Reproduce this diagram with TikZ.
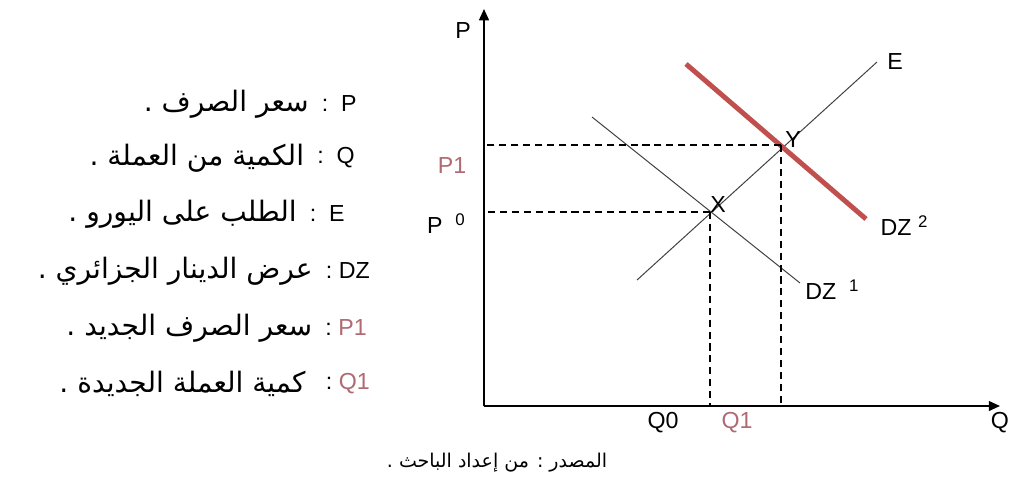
\documentclass[tikz,border=0pt]{standalone}
\usepackage{fontspec}
\setmainfont{Liberation Sans}
\newfontfamily\arabicfont[Script=Arabic]{DejaVu Sans}
\TeXXeTstate=1
\usetikzlibrary{arrows.meta,positioning}
\definecolor{curvered}{HTML}{C0504D}
\definecolor{labelpink}{HTML}{B06A74}
\definecolor{linegray}{HTML}{404040}
\newcommand\raisednum[1]{\raisebox{0.35em}{\fontsize{12}{14}\selectfont #1}}

\begin{document}
\begin{tikzpicture}[x=0.025cm, y=-0.025cm,
    axis/.style={line width=1.3pt, -{Triangle[length=8pt,width=7pt]}},
    curve/.style={line width=0.7pt, color=linegray},
    shifted/.style={line width=3.5pt, color=curvered},
    guide/.style={line width=1.3pt, dash pattern=on 5pt off 3.5pt},
    lbl/.style={font=\fontsize{16.5}{19}\selectfont, inner sep=0pt},
    lgsym/.style={lbl, anchor=east},
    lgtext/.style={font=\arabicfont\fontsize{20}{24}\selectfont, inner sep=0pt, anchor=east},
]
\path[use as bounding box, fill=white] (0,0) rectangle (1011,495);

% axes
\coordinate (O) at (484,406);
\coordinate (ytip) at (484,9);
\coordinate (xtip) at (1000,406);
\draw[axis] (O) -- (ytip);
\draw[axis] (O) -- (xtip);
\node[lbl] (axP) at (463,31) {P};
\node[lbl] (axQ) at (1000,423) {Q};

% curves
\coordinate (ptX) at (710,212);
\coordinate (ptY) at (781,145);
\coordinate (eLow) at (637,280);
\coordinate (eHigh) at (877,62);
\coordinate (dOneHigh) at (592,117);
\coordinate (dOneLow) at (800,283);
\coordinate (dTwoHigh) at (686,64);
\coordinate (dTwoLow) at (866,219);
\draw[curve] (eLow) -- (eHigh);
\draw[curve] (dOneHigh) -- (dOneLow);
\draw[shifted] (dTwoHigh) -- (dTwoLow);

% guides
\foreach \p in {ptX, ptY} {
    \draw[guide] (\p) -- (\p -| O);
    \draw[guide] (\p) -- (\p |- O);
}

% chart labels
\node[lbl] (lbE) at (895,62) {E};
\node[lbl] (lbDZtwo) at (904,226) {DZ \raisednum{2}};
\node[lbl] (lbDZone) at (832,290) {DZ\ \ \raisednum{1}};
\node[lbl] (lbX) at (718,205) {X};
\node[lbl] (lbY) at (793,140) {Y};
\node[lbl, color=labelpink] (lbPone) at (452,166) {P1};
\node[lbl] (lbPzero) at (446,224) {P\ \ \raisednum{0}};
\node[lbl] (lbQzero) at (663,423) {Q0};
\node[lbl, color=labelpink] (lbQone) at (737,423) {Q1};

% legend
\node[lgsym] (lgP) at (357,104) {:\ \ P};
\node[lgtext, left=9pt of lgP] (txP) {\beginR سعر الصرف .\endR};
\node[lgsym] (lgQ) at (355,158) {:\ \ Q};
\node[lgtext, left=9pt of lgQ] (txQ) {\beginR الكمية من العملة .\endR};
\node[lgsym] (lgE) at (345,214) {:\ \ E};
\node[lgtext, left=9pt of lgE] (txE) {\beginR الطلب على اليورو .\endR};
\node[lgsym] (lgDZ) at (370,271) {:\ DZ};
\node[lgtext, left=9pt of lgDZ] (txDZ) {\beginR عرض الدينار الجزائري .\endR};
\node[lgsym] (lgPone) at (367,328) {:\ \textcolor{labelpink}{P1}};
\node[lgtext, left=9pt of lgPone] (txPone) {\beginR سعر الصرف الجديد .\endR};
\node[lgsym] (lgQone) at (370,384) {:\ \textcolor{labelpink}{Q1}};
\node[lgtext, left=14pt of lgQone] (txQone) {\beginR كمية العملة الجديدة .\endR};

% source
\node[lgtext, font=\arabicfont\fontsize{13.5}{16}\selectfont, anchor=center] (source) at (497,463) {\beginR المصدر : من إعداد الباحث .\endR};

\end{tikzpicture}
\end{document}
